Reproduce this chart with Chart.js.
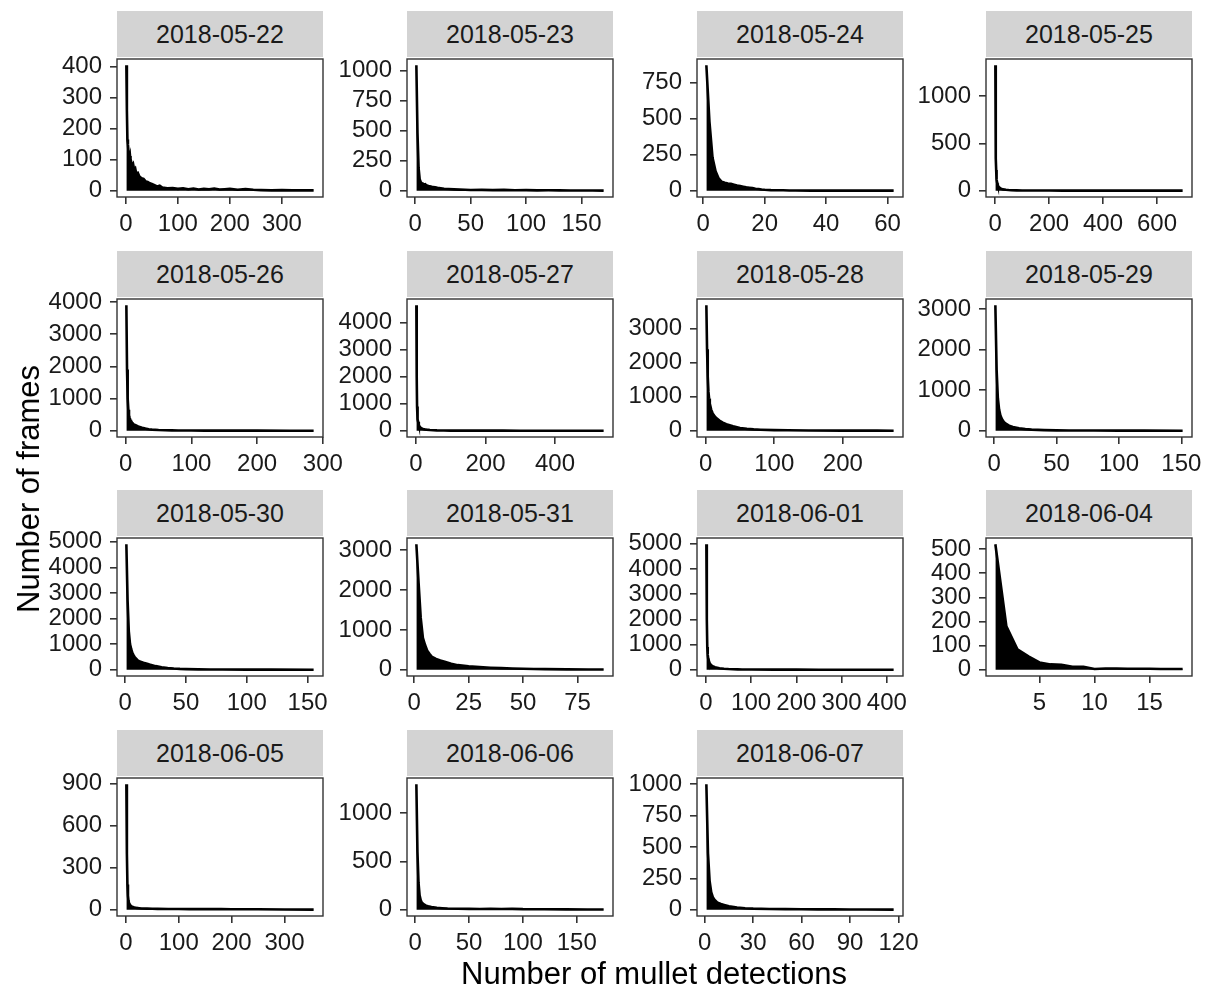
<!DOCTYPE html>
<html>
<head>
<meta charset="utf-8">
<script src="https://cdn.jsdelivr.net/npm/chart.js@4.4.1/dist/chart.umd.min.js"></script>
<style>
  html, body { margin:0; padding:0; background:#fff; }
  #root { position:relative; width:1210px; height:988px; overflow:hidden; background:#fff; font-family:"Liberation Sans", Arial, sans-serif; }
  .strip { position:absolute; background:#d3d3d3; color:#1a1a1a; font-size:25px; text-align:center; }
  .cv { position:absolute; }
  .title { position:absolute; color:#000; font-size:31px; white-space:nowrap; }
</style>
</head>
<body>
<div id="root"></div>
<script>
// ---------- data ----------
const dates = ['2018-05-22','2018-05-23','2018-05-24','2018-05-25','2018-05-26','2018-05-27','2018-05-28','2018-05-29','2018-05-30','2018-05-31','2018-06-01','2018-06-04','2018-06-05','2018-06-06','2018-06-07'];

const det_0522 = [1,2,3,4,5,6,7,8,9,10,12,14,16,18,20,23,26,30,34,38,42,46,50,55,60,65,70,80,90,100,110,120,130,140,150,160,170,180,190,200,215,230,245,260,280,300,320,340,361];
const frm_0522 = [405,260,165,150,128,120,104,112,92,95,80,86,68,72,55,58,46,40,38,30,28,24,22,18,14,16,10,8,9,6,8,5,7,4,6,5,7,4,5,6,3,5,3,2,1,2,1,1,1];
const det_0523 = [1,2,3,4,5,6,7,8,9,10,12,14,16,18,20,23,26,30,35,40,45,50,60,70,80,90,100,110,120,130,140,150,160,170];
const frm_0523 = [1045,480,190,95,70,62,58,52,55,45,40,36,30,28,24,20,16,14,11,9,8,6,7,5,7,4,5,3,4,3,2,2,2,1];
const det_0524 = [1,2,3,4,5,6,7,8,9,10,11,12,13,14,15,16,17,18,19,20,22,24,26,28,30,35,40,45,50,55,62];
const frm_0524 = [870,480,230,135,85,62,55,50,48,42,36,32,28,24,21,18,14,12,9,7,4,3,3,2,2,1,1,1,1,1,1];
const det_0525 = [1,2,3,4,5,6,8,10,12,15,20,25,30,40,50,60,80,100,150,200,250,300,350,400,500,600,695];
const frm_0525 = [1325,620,340,220,160,120,80,58,45,35,25,18,14,10,7,5,4,3,2,2,1,1,1,1,1,1,1];
const det_0526 = [1,2,3,4,5,6,7,8,10,12,15,18,20,25,30,35,40,50,60,70,80,100,120,150,200,250,286];
const frm_0526 = [3900,1900,1000,650,480,400,340,300,240,200,170,140,120,90,65,48,35,22,14,10,8,5,4,3,2,1,1];
const det_0527 = [1,2,3,4,5,6,8,10,12,15,20,25,30,40,50,60,80,100,150,200,250,300,400,540];
const frm_0527 = [4650,2000,900,600,420,330,220,160,130,95,65,50,40,28,20,14,8,5,3,2,2,1,1,1];
const det_0528 = [1,2,3,4,5,6,8,10,12,15,20,25,30,40,50,60,70,80,100,120,150,200,250,274];
const frm_0528 = [3690,2400,1600,1150,950,800,620,520,450,380,300,240,190,130,80,55,40,30,18,12,7,4,2,1];
const det_0529 = [1,2,3,4,5,6,7,8,10,12,15,18,20,25,30,35,40,50,60,70,80,100,120,151];
const frm_0529 = [3090,1500,800,520,380,300,250,210,160,125,90,70,58,40,28,20,15,9,6,5,4,3,2,1];
const det_0530 = [1,2,3,4,5,6,7,8,10,12,15,18,20,25,30,35,40,45,50,60,70,80,100,120,155];
const frm_0530 = [4900,2700,1500,1000,800,650,560,480,380,320,270,230,200,140,95,65,45,32,25,15,10,8,5,3,1];
const det_0531 = [1,2,3,4,5,6,7,8,10,12,14,17,20,25,30,35,40,45,50,55,60,70,80,87];
const frm_0531 = [3150,2200,1300,800,620,480,400,330,270,230,200,150,115,85,65,50,40,30,24,18,14,9,6,4];
const det_0601 = [1,2,3,4,5,6,8,10,12,15,20,25,30,40,50,60,70,80,100,150,200,250,300,350,415];
const frm_0601 = [4980,2000,900,600,450,380,270,210,170,140,100,80,60,40,28,20,15,11,7,4,3,2,2,1,1];
const det_0604 = [1,2,3,4,5,6,7,8,9,10,11,12,13,14,15,16,17,18];
const frm_0604 = [520,180,85,55,30,22,20,12,12,3,5,5,4,4,4,3,3,3];
const det_0605 = [1,2,3,4,5,6,8,10,12,15,20,25,30,40,50,60,80,100,120,150,180,200,250,300,355];
const frm_0605 = [895,400,180,100,65,48,34,27,21,17,13,11,9,8,7,6,5,5,4,4,4,3,3,2,1];
const det_0606 = [1,2,3,4,5,6,8,10,12,15,20,25,30,40,50,60,70,80,90,100,120,140,160,175];
const frm_0606 = [1300,600,280,150,100,75,55,42,35,28,20,16,13,10,9,8,10,7,9,6,5,4,3,2];
const det_0607 = [1,2,3,4,5,6,8,10,12,15,20,25,30,40,50,60,70,80,90,100,117];
const frm_0607 = [1000,450,230,140,100,80,55,45,38,28,18,12,9,6,5,4,3,3,2,2,1];

const xt_0522 = [0,100,200,300], yt_0522 = [0,100,200,300,400];
const xt_0523 = [0,50,100,150],  yt_0523 = [0,250,500,750,1000];
const xt_0524 = [0,20,40,60],    yt_0524 = [0,250,500,750];
const xt_0525 = [0,200,400,600], yt_0525 = [0,500,1000];
const xt_0526 = [0,100,200,300], yt_0526 = [0,1000,2000,3000,4000];
const xt_0527 = [0,200,400],     yt_0527 = [0,1000,2000,3000,4000];
const xt_0528 = [0,100,200],     yt_0528 = [0,1000,2000,3000];
const xt_0529 = [0,50,100,150],  yt_0529 = [0,1000,2000,3000];
const xt_0530 = [0,50,100,150],  yt_0530 = [0,1000,2000,3000,4000,5000];
const xt_0531 = [0,25,50,75],    yt_0531 = [0,1000,2000,3000];
const xt_0601 = [0,100,200,300,400], yt_0601 = [0,1000,2000,3000,4000,5000];
const xt_0604 = [5,10,15],       yt_0604 = [0,100,200,300,400,500];
const xt_0605 = [0,100,200,300], yt_0605 = [0,300,600,900];
const xt_0606 = [0,50,100,150],  yt_0606 = [0,500,1000];
const xt_0607 = [0,30,60,90,120], yt_0607 = [0,250,500,750,1000];

const xTitle = 'Number of mullet detections';
const yTitle = 'Number of frames';

// ---------- assembly ----------
const series = [
  [det_0522, frm_0522, xt_0522, yt_0522],
  [det_0523, frm_0523, xt_0523, yt_0523],
  [det_0524, frm_0524, xt_0524, yt_0524],
  [det_0525, frm_0525, xt_0525, yt_0525],
  [det_0526, frm_0526, xt_0526, yt_0526],
  [det_0527, frm_0527, xt_0527, yt_0527],
  [det_0528, frm_0528, xt_0528, yt_0528],
  [det_0529, frm_0529, xt_0529, yt_0529],
  [det_0530, frm_0530, xt_0530, yt_0530],
  [det_0531, frm_0531, xt_0531, yt_0531],
  [det_0601, frm_0601, xt_0601, yt_0601],
  [det_0604, frm_0604, xt_0604, yt_0604],
  [det_0605, frm_0605, xt_0605, yt_0605],
  [det_0606, frm_0606, xt_0606, yt_0606],
  [det_0607, frm_0607, xt_0607, yt_0607]
];

// layout
const colLeft = [117, 407, 697, 986];
const rowTop = [59, 299, 538, 778];
const PW = 206, PH = 138;
const STRIP_H = 46, STRIP_GAP = 2;
const YW = 110, PADT = 15, PADR = 40, XH = 60;
const FONT = '"Liberation Sans", Arial, sans-serif';
const TICK_COLOR = '#333333';
const TEXT_COLOR = '#1a1a1a';

const root = document.getElementById('root');

const framePlugin = {
  id: 'frame',
  afterDatasetsDraw(chart) {
    const {ctx, chartArea: a} = chart;
    ctx.save();
    ctx.strokeStyle = TICK_COLOR;
    ctx.lineWidth = 1.4;
    ctx.strokeRect(a.left, a.top, a.right - a.left, a.bottom - a.top);
    ctx.restore();
  }
};

function expand(lo, hi) { const r = hi - lo; return [lo - 0.05 * r, hi + 0.05 * r]; }

series.forEach((s, i) => {
  const [xs, ys, xt, yt] = s;
  const col = i % 4, row = Math.floor(i / 4);
  const L = colLeft[col], T = rowTop[row];

  const strip = document.createElement('div');
  strip.className = 'strip';
  strip.style.left = L + 'px';
  strip.style.top = (T - STRIP_GAP - STRIP_H) + 'px';
  strip.style.width = PW + 'px';
  strip.style.height = STRIP_H + 'px';
  strip.style.lineHeight = STRIP_H + 'px';
  strip.textContent = dates[i];
  root.appendChild(strip);

  const cv = document.createElement('canvas');
  cv.className = 'cv';
  const W = YW + PW + PADR, H = PADT + PH + XH;
  cv.width = W; cv.height = H;
  cv.style.left = (L - YW) + 'px';
  cv.style.top = (T - PADT) + 'px';
  cv.style.width = W + 'px'; cv.style.height = H + 'px';
  root.appendChild(cv);

  const [xmin, xmax] = expand(Math.min(...xs), Math.max(...xs));
  const [ymin, ymax] = expand(0, Math.max(...ys));
  const pts = xs.map((x, k) => ({x: x, y: ys[k]}));

  const zeroPad = sc => { sc.paddingLeft = 0; sc.paddingRight = 0; sc.paddingTop = 0; sc.paddingBottom = 0; };

  new Chart(cv, {
    type: 'line',
    data: { datasets: [{
      data: pts,
      borderColor: '#000', backgroundColor: '#000',
      borderWidth: 2.6, pointRadius: 0, fill: 'origin', tension: 0
    }]},
    options: {
      responsive: false, animation: false, devicePixelRatio: 1,
      layout: { padding: { left: 0, top: PADT, right: PADR, bottom: 0 } },
      plugins: { legend: { display: false }, tooltip: { enabled: false } },
      scales: {
        x: {
          type: 'linear', min: xmin, max: xmax,
          afterBuildTicks: sc => { sc.ticks = xt.map(v => ({value: v})); },
          afterFit: sc => { sc.height = XH; zeroPad(sc); },
          grid: { display: true, drawOnChartArea: false, drawTicks: true, tickLength: 7, color: TICK_COLOR, lineWidth: 1.6 },
          border: { display: false },
          ticks: { color: TEXT_COLOR, font: { family: FONT, size: 24 }, padding: 6, maxRotation: 0, autoSkip: false,
                   callback: v => String(v) }
        },
        y: {
          type: 'linear', min: ymin, max: ymax,
          afterBuildTicks: sc => { sc.ticks = yt.map(v => ({value: v})); },
          afterFit: sc => { sc.width = YW; zeroPad(sc); },
          grid: { display: true, drawOnChartArea: false, drawTicks: true, tickLength: 7, color: TICK_COLOR, lineWidth: 1.6 },
          border: { display: false },
          ticks: { color: TEXT_COLOR, font: { family: FONT, size: 24 }, padding: 8, autoSkip: false,
                   callback: v => String(v) }
        }
      }
    },
    plugins: [framePlugin]
  });
});

// axis titles
const xtl = document.createElement('div');
xtl.className = 'title';
xtl.textContent = xTitle;
xtl.style.left = '0px';
xtl.style.width = (2 * 654) + 'px';
xtl.style.textAlign = 'center';
xtl.style.top = '956px';
root.appendChild(xtl);

const ytl = document.createElement('div');
ytl.className = 'title';
ytl.textContent = yTitle;
ytl.style.left = '29px'; ytl.style.top = '489px';
ytl.style.transform = 'translate(-50%, -50%) rotate(-90deg)';
root.appendChild(ytl);
</script>
</body>
</html>
